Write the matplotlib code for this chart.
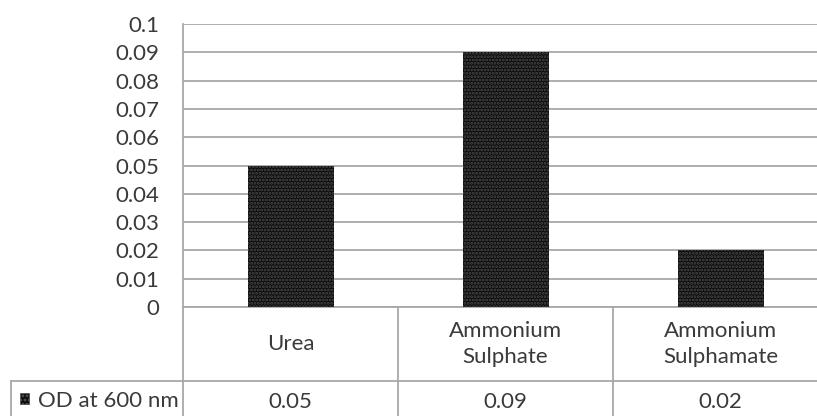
import matplotlib
matplotlib.use("Agg")
import matplotlib.pyplot as plt
from matplotlib.patches import Rectangle
from matplotlib.lines import Line2D

# Data
categories = ["Urea", "Ammonium\nSulphate", "Ammonium\nSulphamate"]
od_values = [0.05, 0.09, 0.02]
value_labels = ["0.05", "0.09", "0.02"]
series_name = "OD at 600 nm"
y_ticks = [0, 0.01, 0.02, 0.03, 0.04, 0.05, 0.06, 0.07, 0.08, 0.09, 0.1]
y_tick_labels = ["0", "0.01", "0.02", "0.03", "0.04", "0.05", "0.06",
                 "0.07", "0.08", "0.09", "0.1"]

plt.rcParams["font.family"] = ["Lato", "DejaVu Sans"]
plt.rcParams["hatch.linewidth"] = 1.4

W, H = 817, 416
fig = plt.figure(figsize=(W / 100, H / 100), dpi=100)
fig.patch.set_facecolor("white")

# plot area in pixels
left_px, right_px, top_px, bottom_px = 183, 828, 24, 307
ax = fig.add_axes([left_px / W, 1 - bottom_px / H,
                   (right_px - left_px) / W, (bottom_px - top_px) / H])

text_color = "#3a3a3a"
line_color = "#a8a8a8"
fs = 16

x = list(range(len(categories)))
ax.bar(x, od_values, width=0.4, color="#0b0b0b", edgecolor="none", zorder=3)
ax.bar(x, od_values, width=0.4, color="none", edgecolor="#4a4a4a",
       hatch=".....", linewidth=0, zorder=4)

ax.set_xlim(-0.5, len(categories) - 0.5)
ax.set_ylim(0, 0.1)
ax.set_yticks(y_ticks)
ax.set_yticklabels(y_tick_labels, color=text_color, fontsize=fs)
ax.tick_params(axis="y", length=0, pad=17)
ax.set_xticks([])
ax.yaxis.grid(True, color=line_color, linewidth=1.3, zorder=0)
ax.set_axisbelow(True)
for s in ["top", "right", "bottom"]:
    ax.spines[s].set_visible(False)
ax.spines["left"].set_color(line_color)
ax.spines["left"].set_linewidth(1.3)


def ay(px):
    """pixel row -> axes fraction"""
    return (bottom_px - px) / (bottom_px - top_px)


blend = ax.get_xaxis_transform()
row1_bottom = 381
table_bottom = 440
kw = dict(color=line_color, linewidth=1.3, clip_on=False)

# horizontal table lines
ax.add_line(Line2D([-0.5, len(categories) - 0.5], [0, 0], transform=blend, **kw))
fig.add_artist(Line2D([11 / W, 1], [1 - row1_bottom / H] * 2,
                      transform=fig.transFigure, **kw))
fig.add_artist(Line2D([11 / W, 11 / W], [1 - row1_bottom / H, 1 - table_bottom / H],
                      transform=fig.transFigure, **kw))
# column dividers
for b in [i - 0.5 for i in range(len(categories) + 1)]:
    ax.add_line(Line2D([b, b], [0, ay(table_bottom)], transform=blend, **kw))

# category row and value row
for i, (cat, lab) in enumerate(zip(categories, value_labels)):
    ax.text(i, ay(344), cat, transform=blend, ha="center", va="center",
            fontsize=fs, color=text_color, linespacing=1.4)
    ax.text(i, ay(402), lab, transform=blend, ha="center", va="center",
            fontsize=fs, color=text_color)

# legend key + series name
fig.add_artist(Rectangle((20 / W, 1 - 404 / H), 9 / W, 11 / H,
                         transform=fig.transFigure, facecolor="#0b0b0b",
                         edgecolor="#555555", linewidth=0.6, hatch="...."))
fig.text(38 / W, 1 - 401 / H, series_name, ha="left", va="center",
         fontsize=fs, color=text_color)

fig.savefig("out.png", dpi=100, facecolor="white")
